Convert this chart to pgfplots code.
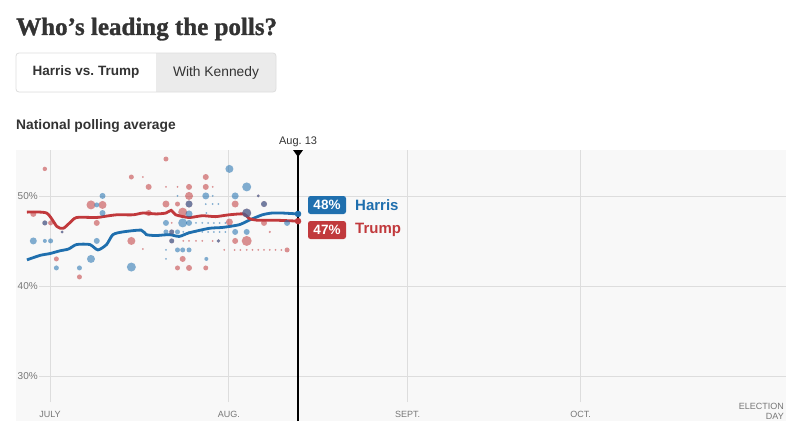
\documentclass[border=0pt]{standalone}
\usepackage{pgfplots}
\pgfplotsset{compat=1.18}
\usepackage{pgfplotstable}
\usepackage{fontspec}
\setmainfont{Liberation Sans}
\newfontfamily\titlefont{Liberation Serif}[BoldFeatures={FakeBold=1.2}]

\definecolor{harris}{HTML}{1F6FAE}
\definecolor{trump}{HTML}{C1393C}
\definecolor{bgplot}{HTML}{F8F8F8}
\definecolor{gridc}{HTML}{DDDDDD}
\definecolor{ticktext}{HTML}{777777}
\definecolor{ink}{HTML}{333333}
\definecolor{btngray}{HTML}{EBEBEB}

% day 0 = July 1; s = dot radius
\pgfplotstableread{
d v s
-0.9 53.0 2.2
-2.9 48.0 3.0
-0.9 47.0 2.5
0.1 47.0 2.5
2.1 46.0 1.5
1.1 43.0 2.5
5.1 41.0 2.5
7.1 49.0 4.5
9.1 49.0 4.0
8.1 47.0 3.0
14.1 52.1 2.5
16.1 52.1 1.0
17.1 51.0 3.0
20.1 54.1 2.5
20.1 51.0 1.0
22.1 51.0 1.0
24.1 51.0 3.0
27.0 52.1 3.0
27.0 51.0 3.0
28.2 51.0 1.0
24.1 50.0 4.0
36.1 50.0 1.5
20.1 49.1 3.5
22.1 49.1 2.5
24.1 49.1 3.5
32.1 49.1 3.5
37.1 49.1 3.0
17.1 48.1 3.0
23.0 48.2 4.5
34.1 48.1 4.5
21.1 47.0 1.0
31.1 47.1 3.5
37.1 47.0 3.0
21.1 46.0 2.5
38.1 46.0 1.2
14.1 45.0 4.0
21.1 45.0 2.5
23.1 45.0 1.0
24.1 45.0 1.0
25.3 45.0 1.0
26.4 45.0 1.0
28.2 45.0 1.0
29.2 45.0 1.8
32.1 45.0 3.0
34.1 45.0 5.0
16.1 44.1 1.0
30.2 44.0 1.0
32.0 44.0 1.0
33.0 44.0 1.0
34.1 44.0 1.0
35.1 44.0 1.0
36.1 44.0 1.0
37.1 44.0 1.0
38.1 44.0 1.0
39.1 44.0 1.0
40.1 44.0 1.0
41.1 44.0 2.5
23.0 43.0 3.0
22.1 42.0 2.5
24.1 42.0 3.0
27.0 42.0 2.5
}\reddots

\pgfplotstableread{
d v s
-2.9 45.0 3.5
-0.9 45.0 2.0
0.1 45.0 2.5
-0.9 47.0 2.5
2.1 46.0 1.5
1.1 42.0 2.5
5.1 42.0 2.5
8.1 49.0 2.5
9.1 50.0 3.0
9.1 48.1 3.0
8.1 45.0 3.0
7.1 43.0 4.0
14.1 42.1 4.5
31.1 53.0 4.0
34.1 51.0 4.5
22.1 50.0 1.0
27.0 50.0 3.5
28.2 50.0 1.0
32.1 50.0 3.5
36.1 50.0 1.5
24.1 49.1 3.5
27.0 49.1 1.0
28.2 49.1 1.0
29.2 49.1 1.0
37.1 49.1 3.0
24.1 48.0 3.5
27.1 48.1 1.0
34.1 48.1 4.5
20.1 47.0 3.0
23.0 47.0 4.5
24.1 47.0 3.0
25.3 47.0 1.0
26.4 47.0 1.0
27.4 47.0 1.0
28.4 47.0 1.0
29.4 47.0 1.0
30.4 47.0 1.0
41.1 47.0 3.0
20.1 46.0 2.5
21.1 46.0 2.5
22.1 46.0 2.5
23.1 46.0 1.0
24.1 46.0 1.0
25.3 46.0 1.0
26.4 46.0 1.0
27.4 46.0 1.0
28.4 46.0 1.0
29.4 46.0 1.0
30.4 46.0 1.0
32.1 46.0 3.0
34.1 46.0 3.0
21.1 45.0 2.5
29.2 45.0 1.8
20.1 44.0 1.0
22.1 44.0 2.5
23.0 44.0 2.5
24.1 44.0 2.5
20.1 43.0 1.0
27.1 43.0 2.0
}\bluedots

\pgfplotsset{
  dots/.style={only marks, scatter, mark=*, point meta=\thisrow{s},
    scatter/use mapped color={draw opacity=0, fill=#1, fill opacity=0.55},
    visualization depends on={\thisrow{s} \as \msize},
    scatter/@pre marker code/.append style={/tikz/mark size=\msize}},
}

\begin{document}
\begin{tikzpicture}
\useasboundingbox (0pt,0pt) rectangle (791pt,-436pt);

% title and switch
\node[anchor=base west, inner sep=0pt, text=ink] at (16pt,-35pt)
  {\titlefont\bfseries\fontsize{25}{30}\selectfont Who’s leading the polls?};
\fill[btngray, rounded corners=3pt] (16pt,-53pt) rectangle (276pt,-92pt);
\begin{scope}
  \clip[rounded corners=3pt] (16pt,-53pt) rectangle (276pt,-92pt);
  \fill[white] (16pt,-53pt) rectangle (156pt,-92pt);
\end{scope}
\draw[gridc, rounded corners=3pt, line width=0.8pt] (16pt,-53pt) rectangle (276pt,-92pt);
\node[text=ink, font=\bfseries\fontsize{13.5}{16}\selectfont] at (86pt,-72.5pt) {Harris vs.\ Trump};
\node[text=ink, font=\fontsize{13.8}{16}\selectfont] at (216pt,-72.5pt) {With Kennedy};
\node[anchor=base west, inner sep=0pt, text=ink, font=\bfseries\fontsize{13.8}{16}\selectfont]
  at (16pt,-129pt) {National polling average};

\begin{axis}[
  at={(16pt,-421pt)}, anchor=south west,
  width=770pt, height=271pt, scale only axis,
  xmin=-5.9, xmax=127.6, ymin=25, ymax=55.1,
  axis line style={draw=none},
  axis background/.style={fill=bgplot},
  xtick={0,31,62,92}, xticklabels={JULY,AUG.,SEPT.,OCT.},
  ytick={30,40,50}, yticklabels={30\%,40\%,50\%},
  major tick length=0pt,
  ymajorgrids, major grid style={gridc, line width=0.8pt},
  xticklabel style={anchor=center, yshift=7pt, text=ticktext,
    font=\fontsize{9}{10}\selectfont},
  yticklabel style={anchor=west, fill=bgplot, inner sep=1.5pt, text=ticktext,
    font=\fontsize{10}{12}\selectfont},
  clip=false,
]
\draw[gridc, line width=0.8pt] (axis cs:0,27.1) -- (axis cs:0,55.1);
\draw[gridc, line width=0.8pt] (axis cs:31,27.1) -- (axis cs:31,55.1);
\draw[gridc, line width=0.8pt] (axis cs:62,27.1) -- (axis cs:62,55.1);
\draw[gridc, line width=0.8pt] (axis cs:92,27.1) -- (axis cs:92,55.1);

\addplot[dots=trump] table[x=d, y=v] {\reddots};
\addplot[dots=harris] table[x=d, y=v] {\bluedots};

\addplot[harris, line width=2.8pt, smooth, tension=0.4] coordinates {
(-4,42.9) (-1.7,43.4) (0,43.6) (1.7,43.9) (3.2,44.1) (4.6,44.6) (6.9,44.6)
(8.3,44.0) (9.8,44.6) (10.9,45.7) (12.6,46.0) (15.8,46.2) (16.7,45.7)
(18.4,45.6) (20.7,45.7) (22.4,45.5) (24.1,45.9) (27.6,46.4) (29.9,46.5)
(32.8,46.8) (34.5,47.3) (36.8,47.9) (38.5,48.1) (40.2,48.1) (43,48.0)};
\addplot[trump, line width=2.8pt, smooth, tension=0.4] coordinates {
(-4,48.2) (-0.6,48.1) (1.2,46.6) (2.3,46.4) (3.4,47.0) (4.6,47.6) (8.0,47.6)
(9.2,47.7) (11.5,47.9) (14.4,47.9) (16.1,48.1) (18.4,48.0) (20.1,48.1)
(21.0,48.4) (21.8,47.9) (24.1,47.6) (26.4,47.8) (28.7,47.7) (31.0,47.9)
(33.6,48.0) (34.5,47.5) (35.9,47.3) (39.1,47.3) (43,47.2)};
\addplot[only marks, mark=*, mark size=3pt, harris] coordinates {(43,48.0)};
\addplot[only marks, mark=*, mark size=3pt, trump] coordinates {(43,47.2)};

\draw[black, line width=1.3pt] (axis cs:43,25) -- (axis cs:43,55.1);
\fill[black] (axis cs:43,55.1) ++(-5pt,0pt) -- ++(10pt,0pt) -- ++(-5pt,-7pt) -- cycle;
\node[anchor=base, text=ink, font=\fontsize{11}{13}\selectfont, yshift=6pt]
  at (axis cs:43,55.1) {Aug.\ 13};
\end{axis}

\node[anchor=south east, align=right, inner sep=1pt, text=ticktext,
  font=\fontsize{9}{10}\selectfont] at (785pt,-421pt) {ELECTION\\DAY};

% end labels
\node[fill=harris, rounded corners=2.5pt, text=white, minimum width=38pt,
  minimum height=18pt, inner sep=0pt, font=\bfseries\fontsize{13.5}{15}\selectfont]
  at (327pt,-205pt) {48\%};
\node[anchor=west, inner sep=0pt, text=harris, font=\bfseries\fontsize{15}{17}\selectfont]
  at (355pt,-205pt) {Harris};
\node[fill=trump, rounded corners=2.5pt, text=white, minimum width=38pt,
  minimum height=18pt, inner sep=0pt, font=\bfseries\fontsize{13.5}{15}\selectfont]
  at (327pt,-230pt) {47\%};
\node[anchor=west, inner sep=0pt, text=trump, font=\bfseries\fontsize{15}{17}\selectfont]
  at (355pt,-230pt) {Trump};
\end{tikzpicture}
\end{document}
